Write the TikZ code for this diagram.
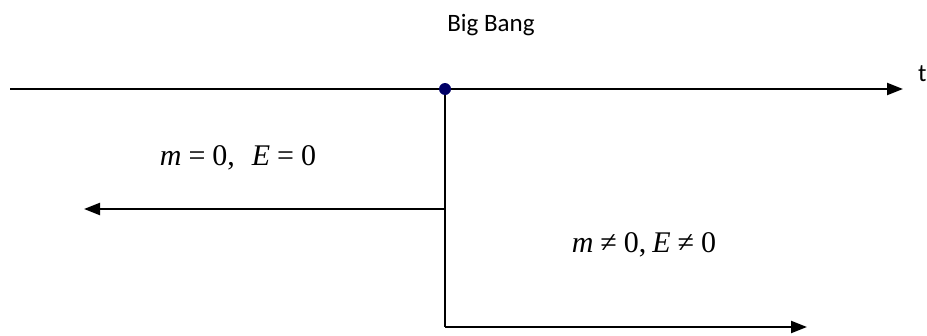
\documentclass[tikz,border=0pt]{standalone}
\usepackage{fontspec}
\setmainfont{Carlito}
\newfontfamily\mathtnr{Liberation Serif}
\usetikzlibrary{arrows.meta,positioning}
\newcommand{\hueco}{\hspace{7pt}}

\begin{document}
\begin{tikzpicture}[
        x=1pt, y=-1pt,
        eje/.style={line width=2.2pt, -{Triangle[length=16pt, width=12pt]}},
        rama/.style={line width=2.2pt},
        etiqueta/.style={font=\mathtnr\fontsize{30}{34}\selectfont, inner sep=0pt, anchor=base},
        texto/.style={font=\fontsize{25}{30}\selectfont, inner sep=0pt}
    ]
        \useasboundingbox (0,0) rectangle (927,335);

        % Puntos del diagrama
        \coordinate (inicio) at (10,89);
        \coordinate (bang) at (445,89);
        \coordinate (fin) at (903,89);
        \coordinate (cruce) at (445,209);
        \coordinate (izq) at (84,209);
        \coordinate (fondo) at (445,327);
        \coordinate (der) at (807,327);

        % Textos
        \node[texto] (titulo) at (491,25) {Big Bang};
        \node[texto, anchor=west] (t) at (918,74) {t};
        \node[etiqueta] (nula) at (238,165) {\textit{m}\hueco=\hueco0,\hspace{17pt}\textit{E}\hueco=\hueco0};
        \node[etiqueta] (nonula) at (644,252) {\textit{m}\hueco≠\hueco0,\hspace{6pt}\textit{E}\hueco≠\hueco0};

        % Lineas
        \draw[eje] (inicio) -- (fin);
        \draw[rama] (bang) -- (fondo);
        \draw[eje] (cruce) -- (izq);
        \draw[eje] (fondo) -- (der);
        \fill[blue!40!black] (bang) circle (6pt);
    \end{tikzpicture}
\end{document}
